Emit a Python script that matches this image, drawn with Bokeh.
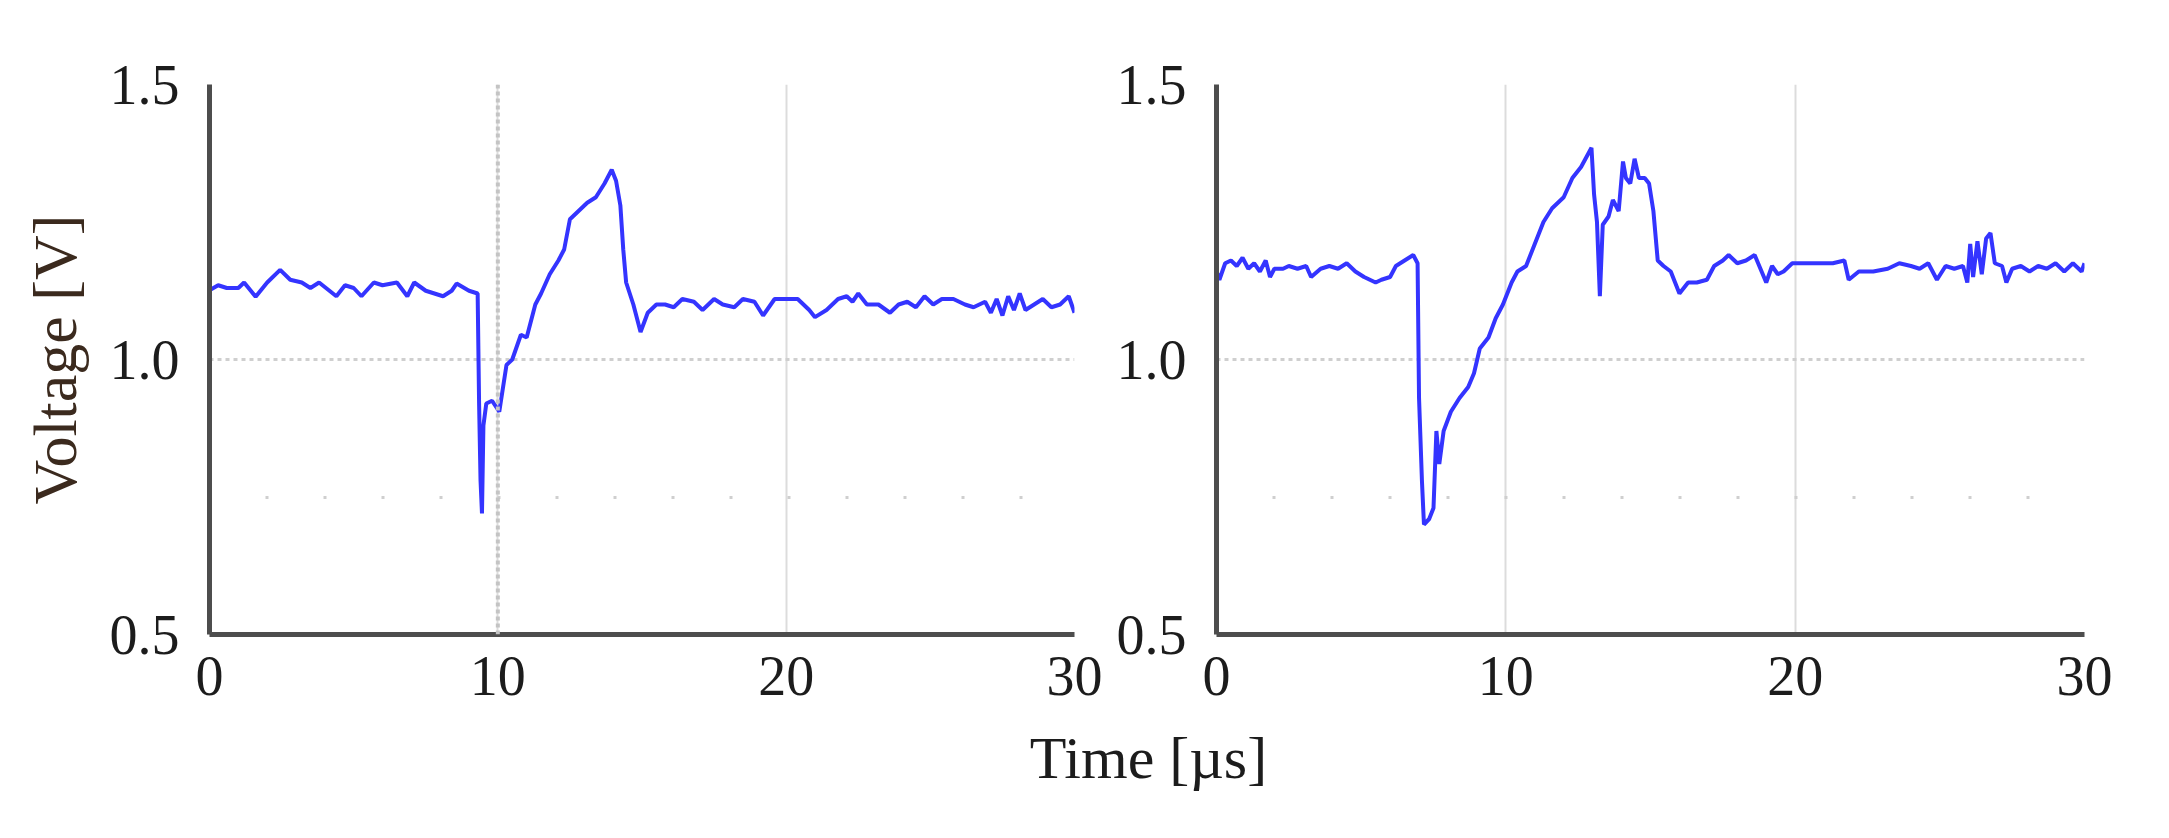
from bokeh.plotting import figure
from bokeh.layouts import row, column
from bokeh.models import Range1d, FixedTicker, Span, Label, CustomJSTickFormatter
from bokeh.embed import file_html
from bokeh.resources import INLINE

# ---- data ----
t_left = [0.0, 0.3, 0.6, 1.0, 1.2, 1.6, 2.0, 2.45, 2.8, 3.2, 3.5, 3.8, 4.4, 4.7, 5.0,
          5.27, 5.7, 6.0, 6.5, 6.86, 7.1, 7.5, 8.1, 8.4, 8.57, 9.0, 9.3,
          9.35, 9.4, 9.45, 9.5, 9.6, 9.8, 10.05, 10.3, 10.5, 10.8, 11.0, 11.3, 11.5,
          11.8, 12.1, 12.3, 12.5, 12.8, 13.1, 13.4, 13.7, 13.95, 14.1, 14.25, 14.35,
          14.45, 14.7, 14.95, 15.2, 15.5, 15.8, 16.1, 16.4, 16.8, 17.1, 17.5, 17.8,
          18.2, 18.5, 18.9, 19.2, 19.6, 20.0, 20.4, 20.8, 21.0, 21.4, 21.8, 22.1,
          22.3, 22.5, 22.8, 23.2, 23.6, 23.9, 24.2, 24.5, 24.8, 25.1, 25.4, 25.8,
          26.2, 26.5, 26.9, 27.1, 27.3, 27.5, 27.7, 27.9, 28.1, 28.3, 28.6, 28.9,
          29.2, 29.5, 29.8, 30.0]
v_left = [1.126, 1.135, 1.13, 1.13, 1.14, 1.114, 1.14, 1.163, 1.145, 1.14, 1.13, 1.14, 1.115, 1.135, 1.13,
          1.115, 1.14, 1.135, 1.14, 1.115, 1.14, 1.125, 1.115, 1.125, 1.138, 1.125, 1.12,
          0.92, 0.78, 0.72, 0.88, 0.92, 0.925, 0.905, 0.99, 1.0, 1.045, 1.04, 1.1, 1.12,
          1.155, 1.18, 1.2, 1.255, 1.27, 1.285, 1.295, 1.32, 1.345, 1.325, 1.28, 1.2,
          1.14, 1.1, 1.05, 1.085, 1.1, 1.1, 1.095, 1.11, 1.105, 1.09, 1.11, 1.1,
          1.095, 1.11, 1.105, 1.08, 1.11, 1.11, 1.11, 1.09, 1.077, 1.09, 1.11, 1.115,
          1.105, 1.12, 1.1, 1.1, 1.085, 1.1, 1.105, 1.095, 1.115, 1.1, 1.11, 1.11,
          1.1, 1.095, 1.105, 1.085, 1.11, 1.08, 1.115, 1.09, 1.12, 1.09, 1.1, 1.11,
          1.095, 1.1, 1.115, 1.085]

t_right = [0.0, 0.1, 0.3, 0.5, 0.7, 0.9, 1.1, 1.3, 1.5, 1.7, 1.85, 2.0, 2.3, 2.5, 2.8,
           3.1, 3.27, 3.6, 3.9, 4.2, 4.5, 4.8, 5.1, 5.5, 5.7, 6.0, 6.2, 6.5, 6.8, 6.95,
           7.0, 7.1, 7.17, 7.35, 7.5, 7.6, 7.7, 7.85, 8.1, 8.4, 8.7, 8.9, 9.1, 9.4, 9.65,
           9.9, 10.2, 10.4, 10.7, 11.0, 11.3, 11.6, 12.0, 12.3, 12.6, 12.96, 13.05, 13.15,
           13.25, 13.35, 13.55, 13.7, 13.9, 14.05, 14.15, 14.3, 14.45, 14.6, 14.8, 14.95,
           15.1, 15.25, 15.45, 15.7, 15.85, 16.0, 16.3, 16.6, 16.95, 17.2, 17.5, 17.7,
           18.0, 18.3, 18.6, 18.8, 19.0, 19.2, 19.4, 19.6, 19.9, 20.3, 20.8, 21.3, 21.7,
           21.85, 22.2, 22.7, 23.2, 23.6, 24.0, 24.3, 24.6, 24.9, 25.2, 25.5, 25.8, 25.95,
           26.05, 26.15, 26.3, 26.45, 26.6, 26.75, 26.9, 27.15, 27.3, 27.5, 27.8, 28.1,
           28.4, 28.7, 29.0, 29.3, 29.6, 29.9, 30.0]
v_right = [1.16, 1.145, 1.175, 1.18, 1.17, 1.185, 1.165, 1.175, 1.16, 1.18, 1.15, 1.165, 1.165, 1.17, 1.165,
           1.17, 1.15, 1.165, 1.17, 1.165, 1.175, 1.16, 1.15, 1.14, 1.145, 1.15, 1.17, 1.18, 1.19, 1.175,
           0.93, 0.78, 0.70, 0.71, 0.73, 0.87, 0.81, 0.87, 0.905, 0.93, 0.95, 0.975, 1.02, 1.04, 1.075,
           1.1, 1.14, 1.16, 1.17, 1.21, 1.25, 1.275, 1.295, 1.33, 1.35, 1.385, 1.3, 1.25,
           1.115, 1.245, 1.26, 1.29, 1.27, 1.36, 1.33, 1.32, 1.365, 1.33, 1.33, 1.32,
           1.27, 1.18, 1.17, 1.16, 1.14, 1.12, 1.14, 1.14, 1.145, 1.17, 1.18, 1.19,
           1.175, 1.18, 1.19, 1.165, 1.14, 1.17, 1.155, 1.16, 1.175, 1.175, 1.175, 1.175, 1.18,
           1.145, 1.16, 1.16, 1.165, 1.175, 1.17, 1.165, 1.175, 1.145, 1.17, 1.165, 1.17, 1.14,
           1.21, 1.15, 1.215, 1.155, 1.22, 1.23, 1.175, 1.17, 1.14, 1.165, 1.17, 1.16,
           1.17, 1.165, 1.175, 1.16, 1.175, 1.16, 1.175]

x_ticks = [0, 10, 20, 30]
y_ticks = [0.5, 1.0, 1.5]
y_minor = [0.75]
x_label = "Time [µs]"
y_label = "Voltage [V]"

FONT = "Liberation Serif"
TICK_COLOR = "#1c1c1c"
LINE_COLOR = "#3434ff"

TOP, FRAME_H, BOTTOM = 84, 550, 85


def make_plot(t, v, width, left_border, right_border, ylabel=None):
    p = figure(width=width, height=TOP + FRAME_H + BOTTOM, output_backend="svg",
               toolbar_location=None,
               x_range=Range1d(0, 30), y_range=Range1d(0.5, 1.5),
               min_border_left=left_border, min_border_right=right_border,
               min_border_top=TOP, min_border_bottom=BOTTOM)
    p.outline_line_color = None
    p.background_fill_color = "white"
    p.border_fill_color = "white"

    p.xaxis.ticker = FixedTicker(ticks=x_ticks)
    p.yaxis.ticker = FixedTicker(ticks=y_ticks, minor_ticks=y_minor)
    p.yaxis.formatter = CustomJSTickFormatter(code="return tick.toFixed(1);")

    for ax in (p.xaxis, p.yaxis):
        ax.axis_line_color = "#4d4d4d"
        ax.axis_line_width = 5
        ax.major_tick_line_color = None
        ax.minor_tick_line_color = None
        ax.major_tick_out = 0
        ax.major_tick_in = 0
        ax.minor_tick_out = 0
        ax.major_label_text_font = FONT
        ax.major_label_text_font_size = "56px"
        ax.major_label_text_color = TICK_COLOR
    p.xaxis.major_label_standoff = 22
    p.yaxis.major_label_standoff = 30

    if ylabel:
        p.yaxis.axis_label = ylabel
        p.yaxis.axis_label_text_font = FONT
        p.yaxis.axis_label_text_font_size = "62px"
        p.yaxis.axis_label_text_font_style = "normal"
        p.yaxis.axis_label_text_color = "#3b2a1e"
        p.yaxis.axis_label_standoff = 18

    p.xgrid.grid_line_color = "#dcdcdc"
    p.xgrid.grid_line_width = 2
    p.ygrid.grid_line_color = "#cfcfcf"
    p.ygrid.grid_line_width = 3
    p.ygrid.grid_line_dash = "4 4"
    p.ygrid.minor_grid_line_color = "#cfcfcf"
    p.ygrid.minor_grid_line_width = 3
    p.ygrid.minor_grid_line_dash = "3 55"
    p.ygrid.minor_grid_line_dash_offset = -56

    p.line(t, v, line_color=LINE_COLOR, line_width=4)
    return p


p1 = make_plot(t_left, v_left, 1102, 209, 28, ylabel=y_label)
p1.add_layout(Span(location=10, dimension="height", line_color="#c4c4c4",
                   line_width=4, line_dash="4 3"), "center")
p2 = make_plot(t_right, v_right, 1050, 114, 68)

lab = figure(width=2152, height=90, output_backend="svg", toolbar_location=None,
             x_range=Range1d(0, 2152), y_range=Range1d(0, 90),
             min_border=0)
lab.outline_line_color = None
lab.axis.visible = False
lab.grid.visible = False
lab.add_layout(Label(x=1148, y=52, x_units="screen", y_units="screen", text=x_label,
                     text_font=FONT, text_font_size="60px", text_color=TICK_COLOR,
                     text_align="center", text_baseline="middle"))

layout = column(row(p1, p2), lab)
open("out.html", "w").write(file_html(layout, INLINE))
